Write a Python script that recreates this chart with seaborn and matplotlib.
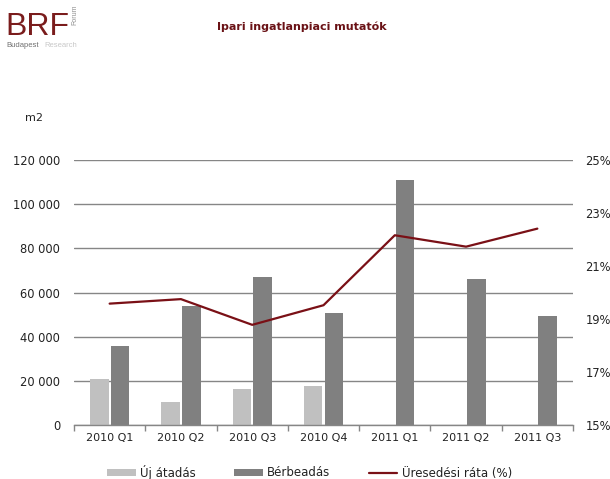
import numpy as np
import pandas as pd
import matplotlib
matplotlib.use('Agg')
import matplotlib.pyplot as plt
import seaborn as sns
from matplotlib.patches import Patch
from matplotlib.lines import Line2D
from matplotlib.ticker import FuncFormatter, FixedLocator

# Data
QUARTERS = ['2010 Q1', '2010 Q2', '2010 Q3', '2010 Q4', '2011 Q1', '2011 Q2', '2011 Q3']
UJ_ATADAS = [21000, 10500, 16200, 17500, np.nan, np.nan, np.nan]
BERBEADAS = [35900, 53900, 67200, 50900, 110900, 66300, 49400]
URESEDESI_RATA = [19.58, 19.75, 18.78, 19.52, 22.16, 21.73, 22.41]
SERIES_NAMES = ['Új átadás', 'Bérbeadás', 'Üresedési ráta (%)']

LIGHT = '#c0c0c0'
DARK = '#808080'
RED = '#7a1016'
GRID = '#868686'
TEXT = '#222222'

sns.set_theme(style='white')
plt.rcParams['font.family'] = ['DejaVu Sans']

df = pd.DataFrame({
    'negyedev': QUARTERS * 2,
    'sorozat': [SERIES_NAMES[0]] * len(QUARTERS) + [SERIES_NAMES[1]] * len(QUARTERS),
    'ertek': UJ_ATADAS + BERBEADAS,
})
rate_df = pd.DataFrame({'pos': np.arange(len(QUARTERS)), 'rata': URESEDESI_RATA})

fig = plt.figure(figsize=(6.10, 4.79), dpi=100)
ax = fig.add_axes([74 / 610, 1 - 425 / 479, (573 - 74) / 610, (425 - 160) / 479])

sns.barplot(data=df, x='negyedev', y='ertek', hue='sorozat', order=QUARTERS,
            hue_order=SERIES_NAMES[:2], palette=[LIGHT, DARK], width=0.58, gap=0.1,
            saturation=1, linewidth=0, ax=ax, legend=False, zorder=2)

ax.set_ylim(0, 120000)
ax.set_yticks(np.arange(0, 120001, 20000))
ax.yaxis.set_major_formatter(FuncFormatter(lambda v, p: f'{int(v):,}'.replace(',', ' ')))
ax.grid(axis='y', color=GRID, linewidth=1)
ax.set_axisbelow(True)
ax.set_xlim(-0.5, len(QUARTERS) - 0.5)

# Excel-like x ticks: marks between categories, labels at centres
ax.xaxis.set_major_locator(FixedLocator(np.arange(-0.5, len(QUARTERS), 1.0)))
ax.xaxis.set_minor_locator(FixedLocator(np.arange(len(QUARTERS))))
ax.set_xticklabels([], minor=False)
ax.set_xticklabels(QUARTERS, minor=True)
ax.tick_params(axis='x', which='major', bottom=True, length=4, width=1, color=GRID, direction='out')
ax.tick_params(axis='x', which='minor', bottom=True, length=0, pad=6, labelsize=8, labelcolor=TEXT)
ax.tick_params(axis='y', left=False, length=0, pad=10, labelsize=8.3, labelcolor=TEXT)
ax.set_xlabel('')
ax.set_ylabel('')
for s in ['top', 'right', 'left']:
    ax.spines[s].set_visible(False)
ax.spines['bottom'].set_color(GRID)
ax.spines['bottom'].set_linewidth(1)

ax2 = ax.twinx()
sns.lineplot(data=rate_df, x='pos', y='rata', color=RED, linewidth=1.6, ax=ax2, zorder=3)
ax2.set_ylim(15, 25)
ax2.set_yticks(np.arange(15, 25.1, 2))
ax2.yaxis.set_major_formatter(FuncFormatter(lambda v, p: f'{v:.0f}%'))
ax2.tick_params(axis='y', right=False, length=0, pad=9, labelsize=8.3, labelcolor=TEXT)
ax2.set_ylabel('')
ax2.set_xlabel('')
ax2.set_xlim(-0.5, len(QUARTERS) - 0.5)
for s in ['top', 'right', 'left', 'bottom']:
    ax2.spines[s].set_visible(False)

handles = [Patch(facecolor=LIGHT, edgecolor='none'),
           Patch(facecolor=DARK, edgecolor='none'),
           Line2D([], [], color=RED, linewidth=1.6)]
fig.legend(handles, SERIES_NAMES, loc='center left', bbox_to_anchor=(99 / 610, 1 - 472 / 479), ncol=3,
           frameon=False, fontsize=8.5, handlelength=2.4, handleheight=0.5,
           handletextpad=0.35, columnspacing=3.3, labelcolor=TEXT, borderpad=0.2)

# header
fig.text(25 / 610, 1 - 118 / 479, 'm2', fontsize=8, color=TEXT, va='center')
fig.text(302 / 610, 1 - 27 / 479, 'Ipari ingatlanpiaci mutatók', fontsize=8, fontweight='bold',
         color='#6a1216', ha='center', va='center')
fig.text(5 / 610, 1 - 35 / 479, 'BRF', fontsize=23, color='#7a1c1c',
         family='Liberation Sans', va='baseline')
fig.text(75 / 610, 1 - 15 / 479, 'Forum', fontsize=5, color='#909090', rotation=90,
         ha='center', va='center', family='Liberation Sans')
fig.text(6 / 610, 1 - 47 / 479, 'Budapest', fontsize=5.5, color='#707070',
         family='Liberation Sans', va='baseline')
fig.text(44 / 610, 1 - 47 / 479, 'Research', fontsize=5.5, color='#c8c8c8',
         family='Liberation Sans', va='baseline')

fig.savefig('out.png', dpi=100)
